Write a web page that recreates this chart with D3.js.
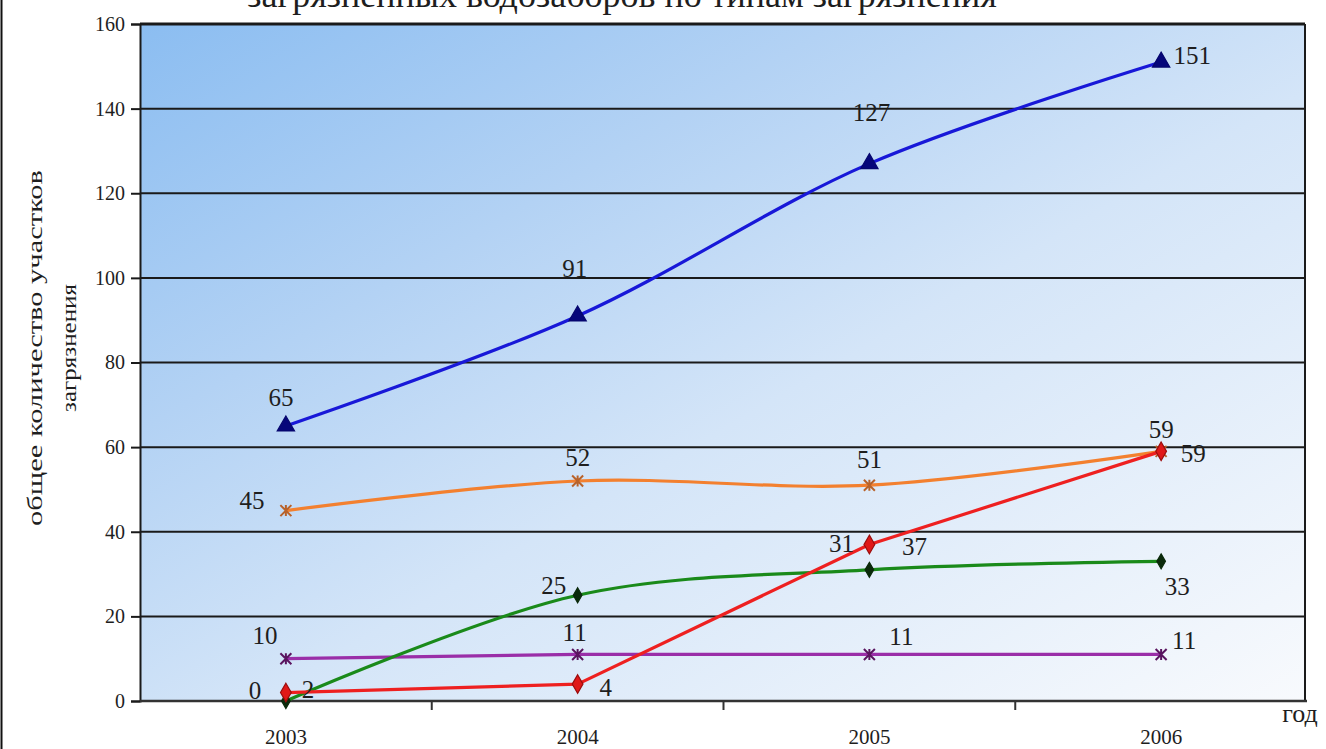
<!DOCTYPE html>
<html>
<head>
<meta charset="utf-8">
<script src="https://cdn.jsdelivr.net/npm/d3@7/dist/d3.min.js"></script>
<style>
  html, body { margin: 0; padding: 0; background: #ffffff; }
  svg { display: block; }
  svg text { font-family: "Liberation Serif", "Times New Roman", serif !important; fill: #1e1e1e; }
</style>
</head>
<body>
<svg id="chart" width="1326" height="749"></svg>
<script>
// Years on the category axis
const years = ["2003", "2004", "2005", "2006"];

// Number of polluted sites per pollution type
const blueSeries   = [65, 91, 127, 151];
const orangeSeries = [45, 52, 51, 59];
const redSeries    = [2, 4, 37, 59];
const greenSeries  = [0, 25, 31, 33];
const purpleSeries = [10, 11, 11, 11];

// Value axis ticks
const yTicks = [0, 20, 40, 60, 80, 100, 120, 140, 160];

const titleText = "загрязненных водозаборов по типам загрязнения";
const yTitleLines = ["общее количество участков", "загрязнения"];
const xTitle = "год";

const W = 1326, H = 749;
const plot = { left: 140, right: 1307, top: 24, bottom: 701 };

const svg = d3.select("#chart");

const x = d3.scaleBand().domain(years).range([plot.left, plot.right]);
const cx = d => x(d) + x.bandwidth() / 2;
const y = d3.scaleLinear().domain([0, 160]).range([plot.bottom, plot.top]);

// Plot area gradient fill
const defs = svg.append("defs");
const grad = defs.append("linearGradient")
  .attr("id", "bg").attr("x1", 0).attr("y1", 0).attr("x2", 1).attr("y2", 1);
grad.append("stop").attr("offset", 0).attr("stop-color", "#8bbdf1");
grad.append("stop").attr("offset", 0.3).attr("stop-color", "#b3d2f4");
grad.append("stop").attr("offset", 0.55).attr("stop-color", "#d4e5f8");
grad.append("stop").attr("offset", 1).attr("stop-color", "#f8fafd");

svg.append("rect")
  .attr("x", plot.left).attr("y", plot.top)
  .attr("width", 1305 - plot.left).attr("height", plot.bottom - plot.top)
  .attr("fill", "url(#bg)");

// Outer frame edge on the left
svg.append("line").attr("x1", 1.5).attr("x2", 1.5).attr("y1", 0).attr("y2", H)
  .attr("stroke", "#111").attr("stroke-width", 2);

// Title (its upper part runs off the top of the page)
svg.append("text")
  .attr("x", 622).attr("y", 7)
  .attr("text-anchor", "middle")
  .attr("font-size", 36)
  .text(titleText);

// Horizontal gridlines
svg.append("g").selectAll("line")
  .data(yTicks.filter(t => t > 0))
  .join("line")
  .attr("x1", plot.left).attr("x2", 1305)
  .attr("y1", d => y(d)).attr("y2", d => y(d))
  .attr("stroke", "#1a1a1a")
  .attr("stroke-width", d => d === 160 ? 3 : 2);

// Right border of the plot area
svg.append("line").attr("x1", 1305).attr("x2", 1305)
  .attr("y1", plot.top).attr("y2", plot.bottom)
  .attr("stroke", "#1a1a1a").attr("stroke-width", 2);

// Y axis
const yAxis = svg.append("g")
  .attr("transform", `translate(${plot.left},0)`)
  .call(d3.axisLeft(y).tickValues(yTicks).tickSize(9).tickPadding(6));
yAxis.select(".domain").attr("stroke", "#1a1a1a").attr("stroke-width", 2);
yAxis.selectAll(".tick line").attr("stroke", "#1a1a1a").attr("stroke-width", 2);
yAxis.selectAll(".tick text")
  .attr("font-size", 20).attr("fill", "#222");

// X axis: ticks sit on the band boundaries, labels in the middle of each band
const xAxis = svg.append("g")
  .attr("transform", `translate(0,${plot.bottom})`);
xAxis.append("line")
  .attr("x1", plot.left).attr("x2", plot.right)
  .attr("stroke", "#333").attr("stroke-width", 2.5);
xAxis.selectAll(".xtick")
  .data(years.slice(1))
  .join("line")
  .attr("class", "xtick")
  .attr("x1", d => x(d)).attr("x2", d => x(d))
  .attr("y1", 0).attr("y2", 9)
  .attr("stroke", "#333").attr("stroke-width", 2);
xAxis.selectAll(".xlabel")
  .data(years)
  .join("text")
  .attr("class", "xlabel")
  .attr("x", d => cx(d)).attr("y", 43)
  .attr("text-anchor", "middle")
  .attr("font-size", 21)
  .text(d => d);

// Axis titles
svg.append("text")
  .attr("x", 1300).attr("y", 722)
  .attr("text-anchor", "middle")
  .attr("font-size", 26)
  .text(xTitle);

const yTitleSpec = [
  { x: 42, len: 356 },
  { x: 76, len: 128 }
];
yTitleLines.forEach((line, i) => {
  svg.append("text")
    .attr("transform", `translate(${yTitleSpec[i].x},348) rotate(-90)`)
    .attr("text-anchor", "middle")
    .attr("font-size", 22)
    .attr("textLength", yTitleSpec[i].len)
    .attr("lengthAdjust", "spacingAndGlyphs")
    .text(line);
});

// Marker shapes
const asterisk = s => `M${-s},${-s}L${s},${s}M${-s},${s}L${s},${-s}M0,${-s}L0,${s}`;
const markerPath = {
  triangle: d3.symbol(d3.symbolTriangle, 130)(),
  diamondBig: d3.symbol(d3.symbolDiamond, 100)(),
  diamondSmall: d3.symbol(d3.symbolDiamond, 65)(),
  star: asterisk(5.5)
};

// Series drawing specifications: label offsets are [dx, dy] from each point
const series = [
  { values: purpleSeries, color: "#9a2ea8", curve: d3.curveLinear,
    marker: "star", mStroke: "#5a145f", mFill: "none",
    labels: [[-21, -23], [-3, -22], [32, -18], [23, -14]] },
  { values: orangeSeries, color: "#f3802f", curve: d3.curveCatmullRom.alpha(0.5),
    marker: "star", mStroke: "#b8622a", mFill: "none",
    labels: [[-34, -10], [0, -24], [0, -26], [32, 2]] },
  { values: greenSeries, color: "#1a8a1a", curve: d3.curveCatmullRom.alpha(0.5),
    marker: "diamondSmall", mStroke: "#0b2a0b", mFill: "#0b2a0b",
    labels: [[-31, -11], [-24, -10], [-28, -27], [16, 25]] },
  { values: redSeries, color: "#ee2020", curve: d3.curveLinear,
    marker: "diamondBig", mStroke: "#9b0d0d", mFill: "#e01818",
    labels: [[22, -3], [28, 3], [45, 2], [0, -22]] },
  { values: blueSeries, color: "#1818d8", curve: d3.curveCatmullRom.alpha(0.5),
    marker: "triangle", mStroke: "#06066e", mFill: "#06067a",
    labels: [[-5, -29], [-3, -48], [2, -51], [31, -7]] }
];

const gLines = svg.append("g");
const gMarks = svg.append("g");
const gLabels = svg.append("g");

series.forEach(s => {
  const pts = years.map((yr, i) => [cx(yr), y(s.values[i])]);
  const line = d3.line().curve(s.curve);
  gLines.append("path")
    .attr("d", line(pts))
    .attr("fill", "none")
    .attr("stroke", s.color)
    .attr("stroke-width", 3.2)
    .attr("stroke-linejoin", "round");

  gMarks.selectAll(null)
    .data(pts)
    .join("path")
    .attr("transform", p => `translate(${p[0]},${p[1]})`)
    .attr("d", markerPath[s.marker])
    .attr("fill", s.mFill)
    .attr("stroke", s.mStroke)
    .attr("stroke-width", s.marker === "star" ? 2 : 1.2);

  gLabels.selectAll(null)
    .data(s.values)
    .join("text")
    .attr("x", (v, i) => pts[i][0] + s.labels[i][0])
    .attr("y", (v, i) => pts[i][1] + s.labels[i][1])
    .attr("dy", "0.35em")
    .attr("text-anchor", "middle")
    .attr("font-size", 25)
    .text(v => v);
});
</script>
</body>
</html>
